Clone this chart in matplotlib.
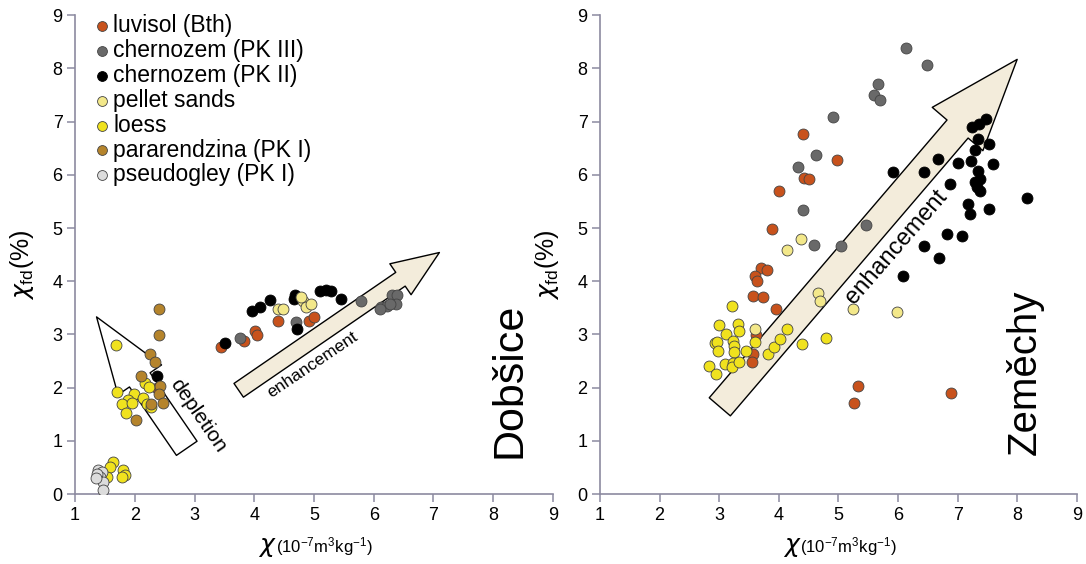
import matplotlib
matplotlib.use('Agg')
from matplotlib import pyplot as plt
from matplotlib.patches import ArrowStyle

plt.rcParams['font.family'] = ['Liberation Sans', 'DejaVu Sans']
plt.rcParams['mathtext.fontset'] = 'custom'
plt.rcParams['mathtext.rm'] = 'Liberation Sans'
plt.rcParams['mathtext.it'] = 'DejaVu Sans:italic'

# ---- data: Dobsice ----
dob_luvisol_x = [3.44, 3.83, 4.01, 4.05, 4.40, 4.92, 5.00, 2.37]
dob_luvisol_y = [2.77, 2.88, 3.06, 2.99, 3.26, 3.26, 3.32, 1.99]
dob_pk3_x = [3.77, 4.70, 5.78, 6.13, 6.22, 6.30, 6.39, 6.37, 6.10, 6.28]
dob_pk3_y = [2.94, 3.24, 3.63, 3.51, 3.53, 3.74, 3.74, 3.57, 3.47, 3.58]
dob_pk2_x = [3.51, 3.97, 4.10, 4.27, 4.68, 4.66, 4.71, 5.10, 5.20, 5.28, 5.45, 2.38]
dob_pk2_y = [2.84, 3.45, 3.51, 3.65, 3.75, 3.67, 3.11, 3.82, 3.83, 3.82, 3.66, 2.21]
dob_pellet_x = [4.39, 4.48, 4.82, 4.87, 4.95, 4.79]
dob_pellet_y = [3.48, 3.48, 3.63, 3.52, 3.58, 3.71]
dob_loess_x = [1.68, 2.17, 2.23, 1.70, 1.98, 1.89, 1.78, 1.95, 2.14, 2.20, 2.27, 1.86,
               1.64, 1.59, 1.81, 1.84, 1.78, 1.53]
dob_loess_y = [2.81, 2.09, 2.01, 1.92, 1.89, 1.77, 1.70, 1.72, 1.80, 1.70, 1.64, 1.52,
               0.61, 0.51, 0.45, 0.36, 0.33, 0.33]
dob_pararend_x = [2.41, 2.41, 2.26, 2.34, 2.11, 2.42, 2.41, 2.48, 2.02, 2.28]
dob_pararend_y = [3.47, 2.99, 2.63, 2.49, 2.22, 2.04, 1.89, 1.72, 1.40, 1.70]
dob_pseudo_x = [1.39, 1.45, 1.42, 1.47, 1.46, 1.36, 1.35]
dob_pseudo_y = [0.45, 0.42, 0.33, 0.23, 0.08, 0.38, 0.30]

# ---- data: Zemechy ----
zem_luvisol_x = [4.40, 4.43, 4.51, 4.01, 3.88, 4.97, 3.70, 3.80, 3.60, 3.64, 3.57, 3.74,
                 3.96, 3.61, 3.56, 3.55, 5.33, 5.27, 6.89]
zem_luvisol_y = [6.77, 5.95, 5.93, 5.70, 4.99, 6.27, 4.24, 4.22, 4.10, 4.00, 3.73, 3.71,
                 3.47, 2.99, 2.63, 2.49, 2.04, 1.72, 1.90]
zem_pk3_x = [6.13, 6.48, 5.66, 5.60, 5.70, 4.91, 4.62, 4.33, 4.40, 4.59, 5.47, 5.04]
zem_pk3_y = [8.38, 8.07, 7.70, 7.50, 7.41, 7.09, 6.37, 6.14, 5.34, 4.68, 5.06, 4.66]
zem_pk2_x = [7.48, 7.36, 7.24, 7.34, 7.53, 7.29, 6.67, 7.00, 7.22, 7.60, 5.91, 6.44, 7.34,
             7.38, 7.29, 7.32, 7.38, 6.87, 8.16, 7.17, 7.21, 7.52, 6.83, 7.07, 6.43, 6.69, 6.09]
zem_pk2_y = [7.05, 6.95, 6.89, 6.67, 6.58, 6.47, 6.29, 6.23, 6.26, 6.21, 6.06, 6.05, 6.08,
             5.93, 5.87, 5.77, 5.70, 5.82, 5.56, 5.45, 5.26, 5.35, 4.89, 4.85, 4.67, 4.43, 4.10]
zem_pellet_x = [4.37, 4.14, 4.66, 4.69, 5.25, 5.99, 3.60]
zem_pellet_y = [4.79, 4.59, 3.78, 3.63, 3.47, 3.43, 3.10]
zem_loess_x = [3.21, 3.00, 3.31, 3.33, 3.11, 2.93, 2.97, 3.23, 3.24, 3.25, 2.98, 3.60, 3.45,
               3.10, 3.23, 3.22, 3.33, 2.83, 2.95, 3.82, 3.92, 4.02, 4.14, 4.39, 4.79]
zem_loess_y = [3.54, 3.18, 3.19, 3.06, 3.01, 2.84, 2.86, 2.88, 2.78, 2.67, 2.69, 2.85, 2.69,
               2.44, 2.47, 2.38, 2.48, 2.41, 2.26, 2.63, 2.76, 2.91, 3.11, 2.82, 2.94]

labels = ['luvisol (Bth)', 'chernozem (PK III)', 'chernozem (PK II)', 'pellet sands',
          'loess', 'pararendzina (PK I)', 'pseudogley (PK I)']
colors = ['#c8521c', '#696969', '#000000', '#f3e88a', '#f0e21e', '#b5842c', '#dcdcdc']

spine_col = '#8c8aa0'
beige = '#f3ecdb'

fig = plt.figure(figsize=(10.86, 5.64), dpi=100)
ax1 = fig.add_axes([0.0691, 0.124, 0.440, 0.849])
ax2 = fig.add_axes([0.5525, 0.124, 0.439, 0.849])

dob = [(dob_luvisol_x, dob_luvisol_y), (dob_pk3_x, dob_pk3_y), (dob_pk2_x, dob_pk2_y),
       (dob_pellet_x, dob_pellet_y), (dob_loess_x, dob_loess_y),
       (dob_pararend_x, dob_pararend_y), (dob_pseudo_x, dob_pseudo_y)]
zem = [(zem_luvisol_x, zem_luvisol_y), (zem_pk3_x, zem_pk3_y), (zem_pk2_x, zem_pk2_y),
       (zem_pellet_x, zem_pellet_y), (zem_loess_x, zem_loess_y)]


def arrow(ax, tail, tip, hl, hw, tw, fc):
    st = ArrowStyle.Simple(head_length=hl, head_width=hw, tail_width=tw)
    ax.annotate('', xy=tip, xytext=tail, zorder=1,
                arrowprops=dict(arrowstyle=st, fc=fc, ec='k', lw=1.0,
                                shrinkA=0, shrinkB=0, mutation_scale=1))


# arrows (drawn under the points)
arrow(ax1, (2.87, 0.86), (1.36, 3.33), 55, 38, 18, 'white')
arrow(ax1, (3.74, 1.95), (7.10, 4.54), 34, 27, 12, beige)
arrow(ax2, (3.01, 1.64), (8.00, 8.17), 66, 48, 20, beige)

for ax, groups in [(ax1, dob), (ax2, zem)]:
    for (x, y), c, lab in zip(groups, colors, labels):
        ec = 'k' if c == '#000000' else '#444444'
        ax.scatter(x, y, s=62, c=c, edgecolors=ec, linewidths=0.6, zorder=3, label=lab)
    ax.set_xlim(1, 9)
    ax.set_ylim(0, 9)
    ax.set_xticks(range(1, 10))
    ax.set_yticks(range(0, 10))
    for s in ['top', 'right']:
        ax.spines[s].set_visible(False)
    for s in ['left', 'bottom']:
        ax.spines[s].set_color(spine_col)
        ax.spines[s].set_linewidth(1.2)
    ax.tick_params(direction='out', length=6, width=1.1, color=spine_col,
                   labelsize=13, pad=3)
    ax.annotate(r'$\chi$', xy=(0.42, 0), xycoords='axes fraction', xytext=(1, -38),
                textcoords='offset points', ha='right', va='center', fontsize=18)
    ax.annotate(r'$\mathrm{(10^{-7}m^3kg^{-1})}$', xy=(0.42, 0), xycoords='axes fraction',
                xytext=(0, -38), textcoords='offset points', ha='left', va='center',
                fontsize=12)
    ax.annotate(r'$\chi_{\mathrm{fd}}$(%)', xy=(0, 0.478), xycoords='axes fraction',
                xytext=(-38, 0), textcoords='offset points', ha='center', va='center',
                rotation=90, fontsize=18)

ax1.legend(loc='upper left', bbox_to_anchor=(0.018, 1.021), frameon=False, fontsize=16.5,
           handlelength=0.8, handletextpad=0.1, labelspacing=0.08, borderaxespad=0,
           markerscale=0.9)

ax1.text(3.06, 1.47, 'depletion', rotation=-55.5, rotation_mode='anchor',
         ha='center', va='center', fontsize=15)
ax1.text(4.97, 2.44, 'enhancement', rotation=34, rotation_mode='anchor',
         ha='center', va='center', fontsize=12.5)
ax2.text(5.97, 4.64, 'enhancement', rotation=49, rotation_mode='anchor',
         ha='center', va='center', fontsize=17)
ax1.text(8.28, 2.14, 'Dobšice', rotation=90, ha='center', va='center', fontsize=31)
ax2.text(8.13, 2.29, 'Zeměchy', rotation=90, ha='center', va='center', fontsize=29)

fig.savefig('out.png', dpi=100)
